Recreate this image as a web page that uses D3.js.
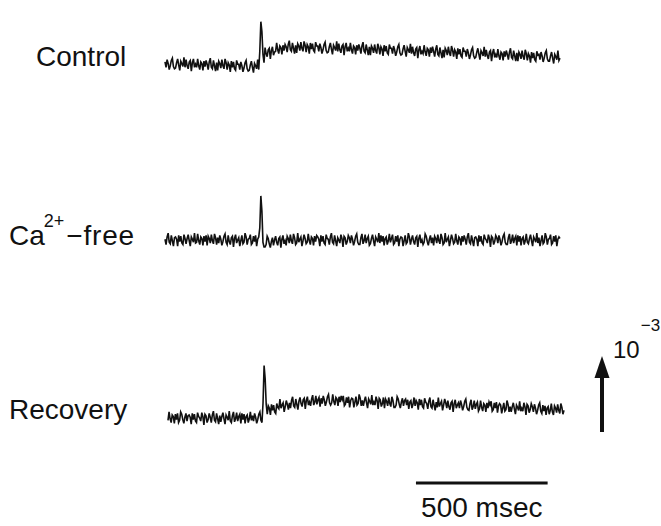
<!DOCTYPE html>
<html>
<head>
<meta charset="utf-8">
<script src="https://cdn.jsdelivr.net/npm/d3@7"></script>
<style>
  body { margin: 0; background: #fff; }
  svg { display: block; }
  .trace { fill: none; stroke: #111; stroke-width: 1.6; stroke-linejoin: miter; }
  .lbl { font-family: "Liberation Sans", Arial, sans-serif; fill: #111; }
</style>
</head>
<body>
<script>

// DATA (amplitudes in units of 1e-5, one sample every 4 ms, stimulus at 360 ms)

const sampleStep = 4;

const traceNames = ['Control', 'Ca', '2+', '\u2212free', 'Recovery'];

const controlValues = [
    4,-3,7,2,-6,-1,6,9,-2,-5, -4,3,8,0,-7,5,2,-2,10,-3,
    7,-1,-5,4,6,-8,3,8,-3,1, -3,8,-1,-6,4,2,-7,5,-2,6,
    1,-6,4,9,-3,-5,6,-1,-8,3, -7,5,2,-4,7,-1,-5,8,3,-6,
    3,0,-9,5,-3,4,-5,-7,6,1, 1,-6,4,-1,-9,-4,3,6,-5,-8,
    -7,0,5,-3,-10,2,-1,-5,7,-6,
    18,57,44,14,3,
    23,15,11,20,22,8,19,24,13,17, 18,29,20,15,25,23,14,26,19,27,
    24,17,27,32,20,18,29,22,15,26, 16,28,25,19,30,22,18,31,26,17,
    27,24,15,29,21,28,19,17,30,25, 25,18,28,23,15,20,27,30,19,16,
    17,24,29,21,14,26,23,19,31,18, 28,20,16,25,27,13,24,29,18,22,
    18,29,20,15,25,23,14,26,19,27, 22,15,25,30,18,16,27,20,13,24,
    13,25,22,16,27,19,15,28,23,14, 24,21,12,26,18,25,16,14,27,22,
    22,15,25,20,12,17,24,27,16,13, 14,21,26,18,11,23,20,16,28,15,
    24,16,12,21,23,9,20,25,14,18, 15,26,17,12,22,20,11,23,16,24,
    18,11,21,26,14,12,23,16,9,20, 10,22,19,13,24,16,12,25,20,11,
    20,17,8,22,14,21,12,10,23,18, 18,11,21,16,8,13,20,23,12,9,
    10,17,22,14,7,19,16,12,24,11, 20,12,8,17,19,5,16,21,10,14,
    10,21,12,7,17,15,6,18,11,19, 14,7,17,22,10,8,19,12,5,16,
    5,17,14,8,19,11,7,20,15,6, 15,12,3,17,9,16,7,5,18,13,
    14,7,17,12,4,9,16,19,8,5, 5,12,17,9,2,14,11,7,19,6,
    9
];

const caFreeValues = [
    1,-6,4,9,-3,-5,6,-1,-8,3, 4,1,-8,6,-2,5,-4,-6,7,2,
    -5,2,7,-1,-8,4,1,-3,9,-4, -3,8,-1,-6,4,2,-7,5,-2,6,
    -7,5,2,-4,7,-1,-5,8,3,-6, 3,-4,6,1,-7,-2,5,8,-3,-6,
    6,-2,-6,3,5,-9,2,7,-4,0, 3,-8,-1,6,-5,-3,9,4,-6,1,
    2,7,-6,-4,5,-2,6,-8,1,4,
    16,58,38,-3,-9,
    -9,-6,5,2,-5,-10,-2,3,-7,0, 5,-3,-7,2,4,-10,1,6,-5,-1,
    -7,5,2,-4,7,-1,-5,8,3,-6, -4,9,-3,1,4,-8,-1,7,2,-5,
    -3,8,-1,-6,4,2,-7,5,-2,6, 4,1,-8,6,-2,5,-4,-6,7,2,
    1,-6,4,9,-3,-5,6,-1,-8,3, 0,-4,7,2,-9,5,3,-6,-2,6,
    3,-4,6,1,-7,-2,5,8,-3,-6, -6,3,8,-5,-1,7,-4,2,5,-7,
    -5,2,7,-1,-8,4,1,-3,9,-4, 6,-2,5,-7,2,4,-6,-1,8,-3,
    2,7,-6,-4,5,-2,6,-8,1,4, 3,-8,-1,6,-5,-3,9,4,-6,1,
    6,-2,-6,3,5,-9,2,7,-4,0, -6,-3,8,5,-2,-7,1,6,-4,3,
    -7,5,2,-4,7,-1,-5,8,3,-6, -4,9,-3,1,4,-8,-1,7,2,-5,
    -3,8,-1,-6,4,2,-7,5,-2,6, 1,-6,4,9,-3,-5,6,-1,-8,3,
    4,1,-8,6,-2,5,-4,-6,7,2, 0,-4,7,2,-9,5,3,-6,-2,6,
    3,-4,6,1,-7,-2,5,8,-3,-6, -6,3,8,-5,-1,7,-4,2,5,-7,
    6,-2,5,-7,2,4,-6,-1,8,-3, -5,2,7,-1,-8,4,1,-3,9,-4,
    3,-8,-1,6,-5,-3,9,4,-6,1, 2,7,-6,-4,5,-2,6,-8,1,4,
    2
];

const recoveryValues = [
    -3,8,-1,-6,4,2,-7,5,-2,6, -6,-3,8,5,-2,-7,1,6,-4,3,
    4,1,-8,6,-2,5,-4,-6,7,2, 0,-4,7,2,-9,5,3,-6,-2,6,
    1,-6,4,9,-3,-5,6,-1,-8,3, -5,2,7,-1,-8,4,1,-3,9,-4,
    -6,3,8,-5,-1,7,-4,2,5,-7, 6,-2,5,-7,2,4,-6,-1,8,-3,
    3,-4,6,1,-7,-2,5,8,-3,-6,
    20,69,52,18,5,
    16,13,4,18,10,17,8,6,19,14, 12,25,13,17,20,8,15,23,18,11,
    20,13,23,28,16,14,25,18,11,22, 27,19,15,24,26,12,23,28,17,21,
    16,25,30,17,21,29,18,24,27,15, 26,19,29,24,16,21,28,31,20,17,
    20,31,22,17,27,25,16,28,21,29, 24,29,16,18,27,20,28,14,23,26,
    25,14,21,28,17,19,31,26,16,23, 16,23,28,20,13,25,22,18,30,17,
    21,17,28,23,12,26,24,15,19,27, 13,25,22,16,27,19,15,28,23,14,
    14,17,28,25,18,13,21,26,16,23, 25,17,24,12,21,23,13,18,27,16,
    23,20,11,25,17,24,15,13,26,21, 19,12,22,27,15,13,24,17,10,21,
    14,27,15,19,22,10,17,25,20,13, 23,15,11,20,22,8,19,24,13,17,
    20,13,23,18,10,15,22,25,14,11, 10,19,24,11,15,23,12,18,21,9,
    12,23,14,9,19,17,8,20,13,21, 17,22,9,11,20,13,21,7,16,19,
    17,6,13,20,9,11,23,18,8,15, 8,15,20,12,5,17,14,10,22,9,
    13,9,20,15,4,18,16,7,11,19, 15,8,18,13,5,10,17,20,9,6,
    17,9,16,4,13,15,5,10,19,8, 4,16,13,7,18,10,6,19,14,5,
    10
];

const calibValue = 100;     // arrow = 1e-3
const calibLabel = ['10', '\u22123'];
const timeBarMs = 500;
const timeBarLabel = '500 msec';


// LAYOUT

const width = 661,
    height = 526,
    pxPerUnit = 0.76;

const svg = d3.select('body')
    .append('svg')
    .attr('width', width)
    .attr('height', height);

const traces = [
    {values: controlValues, base: 65, x0: 165, x1: 560},
    {values: caFreeValues, base: 240, x0: 165, x1: 560},
    {values: recoveryValues, base: 418, x0: 168, x1: 564}
];

const duration = (controlValues.length - 1) * sampleStep;


// TRACES

traces.forEach(function(tr){
    const x = d3.scaleLinear()
        .domain([0, duration])
        .range([tr.x0, tr.x1]);
    const y = d3.scaleLinear()
        .domain([0, 100])
        .range([tr.base, tr.base - 100 * pxPerUnit]);
    const line = d3.line()
        .x(function(d, i){ return x(i * sampleStep); })
        .y(function(d){ return y(d); });
    svg.append('path')
        .datum(tr.values)
        .attr('class', 'trace')
        .attr('d', line);
    tr.x = x;
});


// LABELS

svg.append('text')
    .attr('class', 'lbl')
    .attr('x', 36).attr('y', 66)
    .attr('font-size', 28)
    .text(traceNames[0]);

const caLabel = svg.append('text')
    .attr('class', 'lbl')
    .attr('x', 9).attr('y', 245)
    .attr('font-size', 28);
caLabel.append('tspan').text(traceNames[1]);
caLabel.append('tspan').attr('dx', -1).attr('dy', -18).attr('font-size', 18).text(traceNames[2]);
caLabel.append('tspan').attr('dx', 2).attr('dy', 18).attr('letter-spacing', 0.8).text(traceNames[3]);

svg.append('text')
    .attr('class', 'lbl')
    .attr('x', 9).attr('y', 419)
    .attr('font-size', 28)
    .text(traceNames[4]);


// CALIBRATION ARROW

const yCal = d3.scaleLinear()
    .domain([0, calibValue])
    .range([432, 432 - calibValue * pxPerUnit]);

const ax = 602;
svg.append('line')
    .attr('x1', ax).attr('x2', ax)
    .attr('y1', yCal(0)).attr('y2', yCal(calibValue) + 18)
    .attr('stroke', '#111')
    .attr('stroke-width', 4);
svg.append('path')
    .attr('d', 'M' + ax + ',' + yCal(calibValue) +
        'L' + (ax + 7.5) + ',' + (yCal(calibValue) + 22) +
        'L' + (ax - 7.5) + ',' + (yCal(calibValue) + 22) + 'Z')
    .attr('fill', '#111');

const calText = svg.append('text')
    .attr('class', 'lbl')
    .attr('x', 613).attr('y', 358)
    .attr('font-size', 24);
calText.append('tspan').text(calibLabel[0]);
calText.append('tspan').attr('dx', 1).attr('dy', -27).attr('font-size', 17).text(calibLabel[1]);


// TIME BAR

const xBar = traces[0].x;
const barStart = 953;
svg.append('line')
    .attr('x1', xBar(barStart)).attr('x2', xBar(barStart + timeBarMs))
    .attr('y1', 483).attr('y2', 483)
    .attr('stroke', '#111')
    .attr('stroke-width', 3);

svg.append('text')
    .attr('class', 'lbl')
    .attr('x', (xBar(barStart) + xBar(barStart + timeBarMs)) / 2)
    .attr('y', 517)
    .attr('font-size', 28)
    .attr('text-anchor', 'middle')
    .text(timeBarLabel);

</script>
</body>
</html>
